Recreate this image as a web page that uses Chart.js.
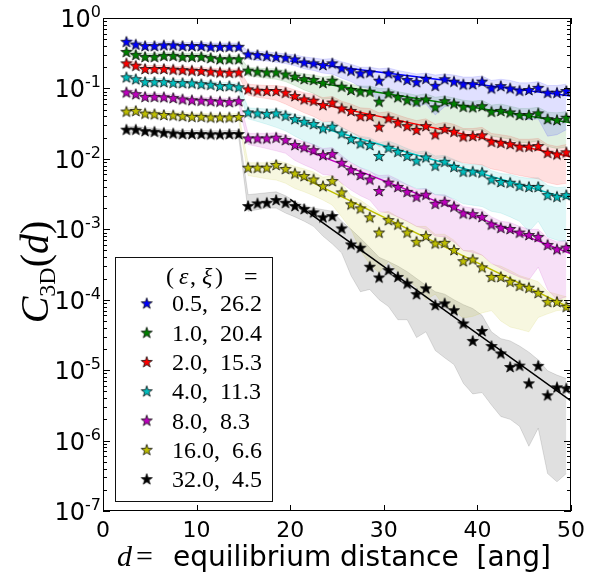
<!DOCTYPE html>
<html>
<head>
<meta charset="utf-8">
<script src="https://cdn.jsdelivr.net/npm/chart.js@4.4.1/dist/chart.umd.min.js"></script>
<style>
  html, body { margin: 0; padding: 0; background: #fff; }
  canvas { display: block; }
</style>
</head>
<body>
<canvas id="chart" width="605" height="575" style="width:605px;height:575px"></canvas>
<script>
// equilibrium distance d [ang]
var dist = [2.5, 3.5, 4.5, 5.5, 6.5, 7.5, 8.5, 9.5, 10.5, 11.5, 12.5, 13.5, 14.5,
  15.5, 16.5, 17.5, 18.5, 19.5, 20.5, 21.5, 22.5, 23.5, 24.5, 25.5, 26.5, 27.5, 28.5, 29.5,
  30.5, 31.5, 32.5, 33.5, 34.5, 35.5, 36.5, 37.5, 38.5, 39.5, 40.5, 41.5, 42.5, 43.5, 44.5,
  45.5, 46.5, 47.5, 48.5, 49.5]

// (epsilon, xi) for each curve
var epsilons = [0.5, 1.0, 2.0, 4.0, 8.0, 16.0, 32.0]
var xis = [26.2, 20.4, 15.3, 11.3, 8.3, 6.6, 4.5]

// C_3D(d) per epsilon
var c05 = [0.46, 0.42, 0.40, 0.40, 0.41, 0.41, 0.40, 0.40, 0.40, 0.39, 0.39, 0.39, 0.39,
  0.305, 0.298, 0.29, 0.28, 0.273, 0.259, 0.234, 0.227, 0.215, 0.227, 0.193, 0.179, 0.164, 0.169, 0.129,
  0.164, 0.144, 0.132, 0.123, 0.137, 0.109, 0.135, 0.125, 0.114, 0.115, 0.125, 0.100, 0.108, 0.100, 0.093,
  0.095, 0.102, 0.087, 0.087, 0.092]
var c1 = [0.33, 0.30, 0.28, 0.28, 0.29, 0.29, 0.28, 0.28, 0.28, 0.27, 0.26, 0.26, 0.26,
  0.179, 0.173, 0.169, 0.169, 0.158, 0.147, 0.136, 0.132, 0.120, 0.129, 0.106, 0.095, 0.090, 0.090, 0.065,
  0.085, 0.075, 0.068, 0.065, 0.070, 0.054, 0.066, 0.061, 0.055, 0.054, 0.056, 0.0467, 0.048, 0.0457, 0.0419,
  0.0419, 0.0443, 0.0367, 0.0356, 0.0384]
var c2 = [0.227, 0.21, 0.189, 0.189, 0.189, 0.185, 0.182, 0.179, 0.177, 0.173, 0.169, 0.167, 0.169,
  0.097, 0.093, 0.092, 0.092, 0.087, 0.078, 0.070, 0.067, 0.058, 0.063, 0.052, 0.048, 0.0405, 0.0405, 0.0286,
  0.0376, 0.0326, 0.0292, 0.0257, 0.0292, 0.0223, 0.0265, 0.0243, 0.0208, 0.0211, 0.0216, 0.0175, 0.0169, 0.0162, 0.0149,
  0.0149, 0.0152, 0.0122, 0.0116, 0.0124]
var c4 = [0.144, 0.135, 0.123, 0.123, 0.123, 0.120, 0.119, 0.118, 0.115, 0.113, 0.108, 0.108, 0.104,
  0.0457, 0.0443, 0.0433, 0.0443, 0.041, 0.0367, 0.0336, 0.0312, 0.0271, 0.0286, 0.023, 0.0191, 0.0166, 0.0157, 0.011,
  0.0144, 0.0126, 0.011, 0.0094, 0.0105, 0.008, 0.0091, 0.0077, 0.0066, 0.0066, 0.0064, 0.0051, 0.0047, 0.00458, 0.00415,
  0.0040, 0.0040, 0.00306, 0.0029, 0.00306]
var c8 = [0.088, 0.083, 0.076, 0.076, 0.075, 0.073, 0.070, 0.068, 0.067, 0.066, 0.065, 0.064, 0.066,
  0.0195, 0.0195, 0.0195, 0.020, 0.0185, 0.0157, 0.0146, 0.0133, 0.0113, 0.0117, 0.0088, 0.0069, 0.0059, 0.0051, 0.0035,
  0.0046, 0.0040, 0.0034, 0.0029, 0.0031, 0.0023, 0.00246, 0.0021, 0.00168, 0.00164, 0.0015, 0.00117, 0.00105, 0.00101, 0.0009,
  0.00083, 0.00078, 0.0006, 0.00052, 0.00055]
var c16 = [0.047, 0.048, 0.044, 0.043, 0.042, 0.0415, 0.0405, 0.0396, 0.0396, 0.0388, 0.0388, 0.0388, 0.0393,
  0.0075, 0.0075, 0.0075, 0.0082, 0.0072, 0.0062, 0.0057, 0.0051, 0.0041, 0.00484, 0.00334, 0.00226, 0.00198, 0.00148, 0.0009,
  0.00135, 0.00117, 0.0009, 0.000665, 0.0008, 0.00063, 0.000643, 0.000507, 0.000353, 0.000373, 0.000288, 0.000211, 0.000211, 0.00018, 0.000158,
  0.000148, 0.000125, 0.0000933, 0.0000933, 0.0000794]
var c32 = [0.026, 0.026, 0.0248, 0.0243, 0.0235, 0.023, 0.0225, 0.0225, 0.0225, 0.0223, 0.0223, 0.0225, 0.0225,
  0.00214, 0.00233, 0.00238, 0.0026, 0.00238, 0.00214, 0.00194, 0.00174, 0.00148, 0.00154, 0.00103, 0.00061, 0.000547, 0.000294, 0.000207,
  0.000263, 0.000211, 0.00017, 0.00012, 0.000145, 0.0000838, 0.0000886, 0.000071, 0.000046, 0.000026, 0.000036, 0.000022, 0.0000173, 0.0000111, 0.0000116,
  0.0000065, 0.0000115, 0.0000044, 0.0000057, 0.0000055]

// spread of C_3D(d): upper and lower edges
var hi05 = [0.52, 0.47, 0.45, 0.45, 0.46, 0.46, 0.45, 0.45, 0.45, 0.44, 0.44, 0.44, 0.44,
  0.34, 0.335, 0.33, 0.32, 0.31, 0.30, 0.28, 0.27, 0.26, 0.265, 0.24, 0.22, 0.20, 0.20, 0.19,
  0.195, 0.18, 0.17, 0.16, 0.165, 0.155, 0.16, 0.155, 0.145, 0.145, 0.15, 0.13, 0.135, 0.13, 0.12,
  0.12, 0.125, 0.11, 0.11, 0.115]
var lo05 = [0.41, 0.37, 0.355, 0.355, 0.365, 0.365, 0.355, 0.355, 0.355, 0.345, 0.345, 0.345, 0.345,
  0.26, 0.25, 0.245, 0.235, 0.225, 0.21, 0.19, 0.18, 0.165, 0.16, 0.14, 0.125, 0.105, 0.10, 0.06,
  0.085, 0.075, 0.065, 0.055, 0.06, 0.042, 0.055, 0.058, 0.056, 0.05, 0.055, 0.045, 0.046, 0.044, 0.038,
  0.036, 0.037, 0.021, 0.022, 0.026]
var hi1 = [0.37, 0.34, 0.315, 0.315, 0.325, 0.325, 0.315, 0.315, 0.315, 0.30, 0.29, 0.29, 0.29,
  0.2, 0.195, 0.19, 0.19, 0.18, 0.17, 0.16, 0.155, 0.145, 0.15, 0.13, 0.115, 0.108, 0.108, 0.1,
  0.1, 0.09, 0.085, 0.08, 0.084, 0.075, 0.078, 0.073, 0.068, 0.066, 0.068, 0.058, 0.06, 0.056, 0.052,
  0.052, 0.054, 0.046, 0.045, 0.047]
var lo1 = [0.295, 0.27, 0.25, 0.25, 0.26, 0.26, 0.25, 0.25, 0.25, 0.24, 0.235, 0.235, 0.235,
  0.15, 0.145, 0.14, 0.135, 0.125, 0.11, 0.095, 0.085, 0.07, 0.072, 0.058, 0.05, 0.042, 0.04, 0.028,
  0.036, 0.032, 0.029, 0.026, 0.028, 0.022, 0.026, 0.025, 0.026, 0.025, 0.026, 0.021, 0.02, 0.019, 0.017,
  0.017, 0.018, 0.015, 0.014, 0.0147]
var hi2 = [0.255, 0.235, 0.212, 0.212, 0.212, 0.207, 0.204, 0.2, 0.198, 0.194, 0.19, 0.187, 0.19,
  0.115, 0.112, 0.11, 0.11, 0.105, 0.095, 0.087, 0.083, 0.074, 0.077, 0.066, 0.06, 0.053, 0.052, 0.045,
  0.047, 0.042, 0.038, 0.035, 0.037, 0.031, 0.033, 0.031, 0.027, 0.027, 0.028, 0.023, 0.022, 0.021, 0.019,
  0.019, 0.0195, 0.016, 0.015, 0.016]
var lo2 = [0.203, 0.188, 0.169, 0.169, 0.169, 0.165, 0.162, 0.16, 0.158, 0.154, 0.151, 0.149, 0.151,
  0.08, 0.075, 0.072, 0.068, 0.06, 0.052, 0.045, 0.04, 0.034, 0.034, 0.028, 0.024, 0.02, 0.019, 0.015,
  0.016, 0.0145, 0.013, 0.012, 0.0115, 0.01, 0.0105, 0.0095, 0.0088, 0.0085, 0.0082, 0.0072, 0.0068, 0.0062, 0.0058,
  0.0055, 0.0052, 0.0046, 0.0043, 0.0045]
var hi4 = [0.161, 0.151, 0.138, 0.138, 0.138, 0.134, 0.133, 0.132, 0.129, 0.127, 0.121, 0.121, 0.117,
  0.053, 0.052, 0.051, 0.051, 0.048, 0.043, 0.04, 0.037, 0.033, 0.034, 0.028, 0.024, 0.021, 0.02, 0.017,
  0.018, 0.016, 0.014, 0.0125, 0.013, 0.011, 0.0112, 0.0098, 0.0085, 0.0083, 0.0082, 0.0068, 0.0062, 0.006, 0.0055,
  0.0053, 0.0054, 0.0042, 0.0039, 0.004]
var lo4 = [0.129, 0.12, 0.11, 0.11, 0.11, 0.107, 0.106, 0.105, 0.103, 0.101, 0.096, 0.096, 0.093,
  0.037, 0.034, 0.031, 0.028, 0.025, 0.021, 0.018, 0.016, 0.013, 0.013, 0.0105, 0.009, 0.0075, 0.0068, 0.0052,
  0.0055, 0.0048, 0.0043, 0.0038, 0.0037, 0.0031, 0.003, 0.0027, 0.0023, 0.0022, 0.0021, 0.0018, 0.0017, 0.0015, 0.0013,
  0.00093, 0.0013, 0.00078, 0.0007, 0.00067]
var hi8 = [0.099, 0.093, 0.085, 0.085, 0.084, 0.082, 0.078, 0.076, 0.075, 0.074, 0.073, 0.072, 0.074,
  0.023, 0.023, 0.023, 0.0235, 0.022, 0.019, 0.0175, 0.016, 0.014, 0.0145, 0.0112, 0.0088, 0.0075, 0.0066, 0.0058,
  0.0059, 0.0051, 0.0043, 0.0037, 0.0038, 0.0031, 0.0031, 0.0026, 0.0021, 0.002, 0.0019, 0.0015, 0.0013, 0.00125, 0.0011,
  0.001, 0.001, 0.00075, 0.00066, 0.0007]
var lo8 = [0.079, 0.074, 0.068, 0.068, 0.067, 0.065, 0.0625, 0.061, 0.06, 0.059, 0.058, 0.057, 0.059,
  0.016, 0.015, 0.014, 0.013, 0.012, 0.0095, 0.0082, 0.0072, 0.006, 0.0058, 0.0045, 0.0036, 0.003, 0.0026, 0.0018,
  0.0017, 0.0015, 0.0013, 0.0011, 0.001, 0.0008, 0.00078, 0.00066, 0.0005, 0.00047, 0.00043, 0.00033, 0.00028, 0.00024, 0.00021,
  0.00019, 0.00029, 0.00014, 0.0001, 0.00011]
var hi16 = [0.053, 0.054, 0.049, 0.048, 0.047, 0.0465, 0.0455, 0.0445, 0.0445, 0.0435, 0.0435, 0.0435, 0.044,
  0.0088, 0.0088, 0.0088, 0.0095, 0.0088, 0.0078, 0.0072, 0.0065, 0.0055, 0.0058, 0.0045, 0.003, 0.0026, 0.0021, 0.0017,
  0.0018, 0.0015, 0.0013, 0.0011, 0.0011, 0.00085, 0.00085, 0.0007, 0.0005, 0.0005, 0.00043, 0.00032, 0.0003, 0.00026, 0.00022,
  0.0002, 0.00018, 0.00013, 0.00012, 0.00011]
var lo16 = [0.042, 0.043, 0.039, 0.0385, 0.0375, 0.037, 0.036, 0.0355, 0.0355, 0.0347, 0.0347, 0.0347, 0.035,
  0.0058, 0.0055, 0.0052, 0.005, 0.0045, 0.0038, 0.0034, 0.003, 0.0026, 0.0022, 0.0015, 0.001, 0.0005, 0.00032, 0.00024,
  0.00035, 0.00025, 0.00019, 0.00015, 0.0001, 0.00012, 0.00008, 0.00007, 0.000055, 0.000058, 0.000065, 0.00007, 0.00005, 0.000041, 0.000038,
  0.000035, 0.000056, 0.000063, 0.00007, 0.000072]
var hi32 = [0.029, 0.029, 0.0278, 0.0272, 0.0263, 0.0258, 0.0252, 0.0252, 0.0252, 0.025, 0.025, 0.0252, 0.0252,
  0.0031, 0.0032, 0.0033, 0.0034, 0.003, 0.0025, 0.0022, 0.002, 0.0019, 0.0018, 0.0013, 0.001, 0.00075, 0.00055, 0.0004,
  0.00035, 0.0003, 0.00025, 0.0002, 0.00016, 0.00013, 0.00012, 0.0001, 0.000085, 0.000075, 0.00006, 0.000035, 0.000028, 0.000026, 0.000022,
  0.000018, 0.000014, 0.0000098, 0.0000085, 0.0000076]
var lo32 = [0.0232, 0.0232, 0.0221, 0.0217, 0.021, 0.0205, 0.0201, 0.0201, 0.0201, 0.0199, 0.0199, 0.0201, 0.0201,
  0.0018, 0.0019, 0.002, 0.002, 0.0017, 0.0015, 0.0013, 0.0011, 0.0008, 0.00062, 0.00046, 0.00022, 0.00013, 0.00014, 0.0001,
  0.00008, 0.000052, 0.000052, 0.000029, 0.000035, 0.000019, 0.000015, 0.000012, 0.0000065, 0.0000046, 0.0000048, 0.0000032, 0.0000022, 0.000002, 0.0000016,
  0.00000083, 0.0000015, 0.00000034, 0.00000026, 0.00000034]

// exponential fits, evaluated at the ends of the fit range
var fitRange = [20, 50]
var fitStart = [0.245, 0.138, 0.074, 0.037, 0.0162, 0.0066, 0.00266]
var fitEnd = [0.078, 0.0326, 0.0107, 0.00266, 0.00045, 0.0000752, 0.00000366]

var xTicks = [0, 10, 20, 30, 40, 50]
var yExponents = [0, -1, -2, -3, -4, -5, -6, -7]

var colors = ['#0000ff', '#008000', '#ff0000', '#00bfbf', '#bf00bf', '#bfbf00', '#000000']
var values = [c05, c1, c2, c4, c8, c16, c32]
var uppers = [hi05, hi1, hi2, hi4, hi8, hi16, hi32]
var lowers = [lo05, lo1, lo2, lo4, lo8, lo16, lo32]

function rgba(hex, a) {
  var n = parseInt(hex.slice(1), 16)
  return 'rgba(' + (n >> 16) + ',' + ((n >> 8) & 255) + ',' + (n & 255) + ',' + a + ')'
}

// filled five point star with a dark edge
function starMarker(color) {
  var c = document.createElement('canvas')
  c.width = 14
  c.height = 14
  var g = c.getContext('2d')
  g.beginPath()
  for (var i = 0; i < 10; i++) {
    var r = i % 2 ? 2.3 : 5.8
    var a = -Math.PI / 2 + i * Math.PI / 5
    g.lineTo(7 + r * Math.cos(a), 7.4 + r * Math.sin(a))
  }
  g.closePath()
  g.fillStyle = color
  g.fill()
  g.lineWidth = 0.9
  g.strokeStyle = 'rgba(0,0,0,0.85)'
  g.stroke()
  return c
}
var markers = colors.map(starMarker)

function points(ys) {
  return ys.map(function (y, i) { return { x: dist[i], y: y } })
}

var datasets = []
values.forEach(function (v, i) {
  var band = rgba(colors[i], 0.12)
  datasets.push({ data: points(uppers[i]), fill: '+1', backgroundColor: band, borderColor: band, borderWidth: 1, pointRadius: 0, order: 3 })
  datasets.push({ data: points(lowers[i]), fill: false, borderColor: band, borderWidth: 1, pointRadius: 0, order: 3 })
  datasets.push({
    data: [{ x: fitRange[0], y: fitStart[i] }, { x: fitRange[1], y: fitEnd[i] }],
    fill: false, borderColor: colors[i], borderWidth: 1.5, pointRadius: 0, order: 2
  })
  datasets.push({ data: points(v), showLine: false, pointStyle: markers[i], pointRadius: 6, order: 1 })
})

var serif = '"Liberation Serif", serif'
var sans = '"DejaVu Sans", sans-serif'

// frame, inward ticks, tick labels, axis titles and the legend box
var decorations = {
  id: 'decorations',
  afterDraw: function (chart) {
    var ctx = chart.ctx
    var a = chart.chartArea
    var xs = chart.scales.x
    var ys = chart.scales.y
    ctx.save()
    ctx.strokeStyle = '#000'
    ctx.fillStyle = '#000'
    ctx.lineWidth = 1

    // ticks
    ctx.beginPath()
    xTicks.forEach(function (t) {
      var px = Math.round(xs.getPixelForValue(t)) + 0.5
      ctx.moveTo(px, a.bottom); ctx.lineTo(px, a.bottom - 6)
      ctx.moveTo(px, a.top); ctx.lineTo(px, a.top + 6)
    })
    yExponents.forEach(function (e) {
      for (var m = 1; m <= 9; m++) {
        var v = m * Math.pow(10, e)
        if (v > 1 || (e === 0 && m > 1)) continue
        var py = Math.round(ys.getPixelForValue(v)) + 0.5
        var len = m === 1 ? 7 : 4
        ctx.moveTo(a.left, py); ctx.lineTo(a.left + len, py)
        ctx.moveTo(a.right, py); ctx.lineTo(a.right - len, py)
      }
    })
    ctx.stroke()

    // frame
    ctx.strokeRect(Math.round(a.left) + 0.5, Math.round(a.top) + 0.5,
      Math.round(a.right - a.left) - 1, Math.round(a.bottom - a.top) - 1)

    // x tick labels
    ctx.font = '22px ' + sans
    ctx.textAlign = 'center'
    ctx.textBaseline = 'alphabetic'
    xTicks.forEach(function (t) {
      ctx.fillText(String(t), xs.getPixelForValue(t), 537)
    })

    // y tick labels, 10 with a raised exponent
    yExponents.forEach(function (e) {
      var py = ys.getPixelForValue(Math.pow(10, e))
      ctx.textAlign = 'right'
      ctx.font = '16px ' + sans
      var ex = String(e)
      var w = ctx.measureText(ex).width
      ctx.fillText(ex, 101, py - 1)
      ctx.font = '24px ' + sans
      ctx.fillText('10', 101 - w, py + 9)
    })

    // x title
    ctx.textAlign = 'left'
    ctx.font = 'italic 30px ' + serif
    ctx.fillText('d', 117, 566)
    ctx.font = '30px ' + serif
    ctx.fillText('=', 136, 566)
    ctx.font = '28px ' + sans
    ctx.fillText('equilibrium distance  [ang]', 173, 566)

    // y title, rotated
    var parts = [
      { t: 'C', f: 'italic 40px ' + serif, dy: 0 },
      { t: '3D', f: '24px ' + serif, dy: 7 },
      { t: '(', f: '40px ' + serif, dy: 0 },
      { t: 'd', f: 'italic 40px ' + serif, dy: 0 },
      { t: ')', f: '40px ' + serif, dy: 0 }
    ]
    var total = 0
    parts.forEach(function (p) { ctx.font = p.f; p.w = ctx.measureText(p.t).width; total += p.w })
    ctx.translate(36, 272)
    ctx.rotate(-Math.PI / 2)
    var cx = -total / 2
    parts.forEach(function (p) {
      ctx.font = p.f
      ctx.fillText(p.t, cx, 12 + p.dy)
      cx += p.w
    })
    ctx.setTransform(1, 0, 0, 1, 0, 0)

    // legend
    ctx.fillStyle = '#fff'
    ctx.fillRect(115, 257, 158, 245)
    ctx.strokeStyle = '#111'
    ctx.strokeRect(115.5, 257.5, 157, 244)
    ctx.fillStyle = '#000'
    ctx.textAlign = 'left'
    ctx.font = '24px ' + serif
    ctx.fillText('(', 166, 284)
    ctx.fillText(',', 190, 284)
    ctx.fillText(')', 215, 284)
    ctx.fillText('=', 244, 284)
    ctx.font = 'italic 24px ' + serif
    ctx.fillText('\u03b5', 179, 284)
    ctx.fillText('\u03be', 202, 284)
    ctx.font = '24px ' + serif
    epsilons.forEach(function (eps, i) {
      var cy = 303.3 + i * 29.3
      ctx.drawImage(markers[i], 146.7 - 7, cy - 7)
      ctx.fillText(eps.toFixed(1) + ',  ' + xis[i].toFixed(1), 172, cy + 8)
    })
    ctx.restore()
  }
}

var chart = new Chart(document.getElementById('chart'), {
  type: 'line',
  data: { datasets: datasets },
  options: {
    responsive: false,
    animation: false,
    devicePixelRatio: 1,
    layout: { padding: { top: 18, right: 34, left: 0, bottom: 0 }, autoPadding: false },
    elements: { line: { tension: 0 } },
    plugins: { legend: { display: false }, tooltip: { enabled: false } },
    scales: {
      x: {
        type: 'linear', min: 0, max: 50,
        ticks: { display: false }, grid: { display: false }, border: { display: false },
        afterFit: function (s) { s.height = 64 }
      },
      y: {
        type: 'logarithmic', min: 1e-7, max: 1,
        ticks: { display: false }, grid: { display: false }, border: { display: false },
        afterFit: function (s) { s.width = 103 }
      }
    }
  },
  plugins: [decorations]
})
</script>
</body>
</html>
